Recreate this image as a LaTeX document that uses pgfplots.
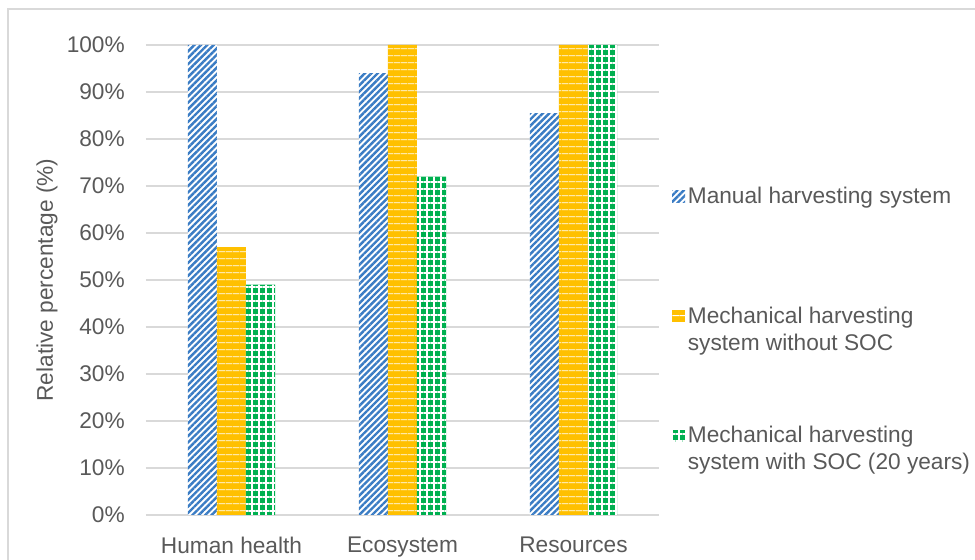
\documentclass[border=0pt]{standalone}
\usepackage{fontspec}
\setmainfont{Liberation Sans}
\usepackage{pgfplots}
\pgfplotsset{compat=1.18}
\usetikzlibrary{patterns.meta}

\definecolor{txt}{HTML}{595959}
\definecolor{gridgray}{HTML}{D9D9D9}
\definecolor{manualblue}{HTML}{3A7CC4}
\definecolor{mechgold}{HTML}{FFC000}
\definecolor{mechgreen}{HTML}{00B050}

\newcommand{\chartfont}{\fontsize{17}{20.25}\selectfont}

\tikzset{
  manualbar/.style={fill=white, postaction={pattern={Lines[angle=45, distance=3.4pt, line width=1.8pt]}, pattern color=manualblue}},
  nosocbar/.style={fill=mechgold, postaction={pattern={Lines[angle=0, distance=5.4pt, line width=0.8pt]}, pattern color=white}},
  socbar/.style={fill=mechgreen, postaction={pattern={Hatch[angle=0, distance=5.25pt, line width=1.2pt]}, pattern color=white}},
}

\begin{document}
\begin{tikzpicture}[x=0.75pt, y=0.75pt]
\useasboundingbox (-146,-45) rectangle (829,515);
% chart area frame
\draw[gridgray, line width=1.1pt] (-138,-60) -- (-138,506) -- (840,506);
\begin{axis}[
  at={(0,0)}, anchor=south west,
  scale only axis, width=384.75pt, height=352.5pt,
  xmin=-0.5, xmax=2.5, ymin=0, ymax=100,
  ybar, bar width=0.1696,
  xtick={0,1,2}, xticklabels={Human health, Ecosystem, Resources},
  ytick={0,10,...,100},
  yticklabel={\pgfmathprintnumber{\tick}\%},
  /pgf/number format/assume math mode=true,
  axis x line*=bottom, axis y line*=left,
  x axis line style={gridgray, line width=1.1pt, -},
  y axis line style={draw=none},
  major tick length=0pt, tick style={draw=none},
  ymajorgrids, grid style={gridgray, line width=1.1pt},
  tick label style={font=\chartfont, text=txt},
  yticklabel style={anchor=east, inner sep=0pt, xshift=-15.75pt},
  xticklabel style={anchor=north, inner sep=0pt, yshift=-16pt},
  ylabel={Relative percentage (\%)},
  ylabel style={font=\chartfont, text=txt, at={(axis description cs:-0.193,0.5)}, anchor=center},
  legend style={at={(axis description cs:1.0175,0.710)}, anchor=north west,
    draw=none, fill=none, font=\chartfont, text=txt, row sep=51.75pt,
    cells={align=left, anchor=west}},
  legend cell align=left,
  legend image code/.code={\path[#1] (0pt,5.5pt) rectangle (9.75pt,14.5pt);},
]
\addplot[manualbar, draw=none, bar shift=-0.1696] coordinates {(0,100) (1,94) (2,85.5)};
\addlegendentry{Manual harvesting system\\\strut}
\addplot[nosocbar, draw=none, bar shift=0] coordinates {(0,57) (1,100) (2,100)};
\addlegendentry{Mechanical harvesting\\system without SOC}
\addplot[socbar, draw=none, bar shift=0.1696] coordinates {(0,49) (1,72) (2,100)};
\addlegendentry{Mechanical harvesting\\system with SOC (20 years)}
\end{axis}
\end{tikzpicture}
\end{document}
